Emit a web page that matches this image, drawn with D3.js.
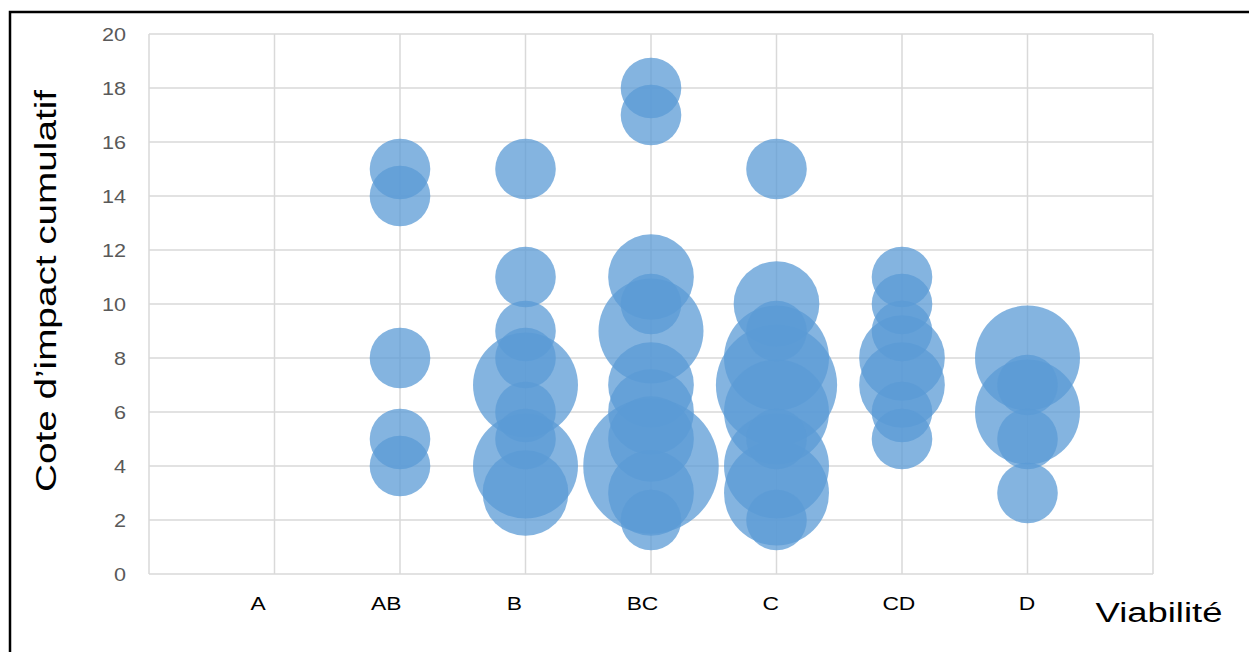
<!DOCTYPE html>
<html>
<head>
<meta charset="utf-8">
<script src="https://cdn.jsdelivr.net/npm/d3@7"></script>
<style>
  html, body { margin: 0; padding: 0; background: #fff; }
  svg { display: block; font-family: "Liberation Sans", Arial, sans-serif; }
</style>
</head>
<body>
<svg id="chart" width="1249" height="652"></svg>
<script>
// ---- data ----
const categories = ["A", "AB", "B", "BC", "C", "CD", "D"];
const xTickValues = [0, 1, 2, 3, 4, 5, 6, 7, 8];
const yTickValues = [0, 2, 4, 6, 8, 10, 12, 14, 16, 18, 20];
// bubbles: category, impact score, bubble size (count)
const bubbleCategory = [
  "AB","AB","AB","AB","AB",
  "B","B","B","B","B","B","B","B","B",
  "BC","BC","BC","BC","BC","BC","BC","BC","BC","BC","BC",
  "C","C","C","C","C","C","C","C","C","C",
  "CD","CD","CD","CD","CD","CD","CD",
  "D","D","D","D","D"
];
const bubbleValue = [
  15, 14, 8, 5, 4,
  15, 11, 9, 8, 7, 6, 5, 4, 3,
  18, 17, 11, 10, 9, 7, 6, 5, 4, 3, 2,
  15, 10, 9, 8, 7, 6, 5, 4, 3, 2,
  11, 10, 9, 8, 7, 6, 5,
  8, 7, 6, 5, 3
];
const bubbleSize = [
  1, 1, 1, 1, 1,
  1, 1, 1, 1, 3, 1, 1, 3, 2,
  1, 1, 2, 1, 3, 2, 2, 2, 5, 2, 1,
  1, 2, 1, 3, 4, 3, 1, 3, 3, 1,
  1, 1, 1, 2, 2, 1, 1,
  3, 1, 3, 1, 1
];
const yTitle = "Cote d\u2019impact cumulatif";
const xTitle = "Viabilité";

// ---- layout ----
const svg = d3.select("#chart");
const plot = { left: 149, right: 1153, top: 34, bottom: 574 };

const x = d3.scaleLinear().domain([0, 8]).range([plot.left, plot.right]);
const y = d3.scaleLinear().domain([0, 20]).range([plot.bottom, plot.top]);
const r = d3.scaleSqrt().domain([0, 5]).range([0, 30.3 * Math.sqrt(5)]);
const catPos = d3.scalePoint().domain(categories).range([258, 1027]);
// bubble x position: category index + 1
const catX = c => x(categories.indexOf(c) + 1);

// frame
svg.append("path")
  .attr("d", "M10,652 L10,12 L1249,12")
  .attr("fill", "none").attr("stroke", "#000").attr("stroke-width", 2.5);

// gridlines
const grid = svg.append("g");
grid.selectAll("line.h").data(yTickValues).join("line")
  .attr("class", "h")
  .attr("x1", plot.left).attr("x2", plot.right)
  .attr("y1", d => y(d)).attr("y2", d => y(d))
  .attr("stroke", "#d9d9d9").attr("stroke-width", 1.5);
grid.selectAll("line.v").data(xTickValues).join("line")
  .attr("class", "v")
  .attr("x1", d => x(d)).attr("x2", d => x(d))
  .attr("y1", plot.top).attr("y2", plot.bottom)
  .attr("stroke", "#d9d9d9").attr("stroke-width", 1.5);

// y tick labels
svg.append("g").selectAll("text").data(yTickValues).join("text")
  .attr("transform", d => `translate(126,${y(d) + 6.5}) scale(1.2,1)`)
  .attr("text-anchor", "end")
  .attr("font-size", 18)
  .attr("fill", "#595959")
  .text(d => d);

// x category labels
svg.append("g").selectAll("text").data(categories).join("text")
  .attr("transform", d => `translate(${catPos(d)},610) scale(1.2,1)`)
  .attr("text-anchor", "middle")
  .attr("font-size", 19)
  .attr("fill", "#000")
  .text(d => d);

// bubbles
const bubbles = bubbleCategory.map((c, i) => ({ c, v: bubbleValue[i], s: bubbleSize[i] }))
  .sort((a, b) => b.s - a.s);
svg.append("g").selectAll("circle").data(bubbles).join("circle")
  .attr("cx", d => catX(d.c))
  .attr("cy", d => y(d.v))
  .attr("r", d => r(d.s))
  .attr("fill", "#5B9BD5")
  .attr("fill-opacity", 0.75);

// axis titles
svg.append("text")
  .attr("transform", "translate(56,291) rotate(-90) scale(1.29,1)")
  .attr("text-anchor", "middle")
  .attr("font-size", 30)
  .attr("fill", "#000")
  .text(yTitle);

svg.append("text")
  .attr("transform", "translate(1159,622) scale(1.3,1)")
  .attr("text-anchor", "middle")
  .attr("font-size", 28)
  .attr("fill", "#000")
  .text(xTitle);
</script>
</body>
</html>
